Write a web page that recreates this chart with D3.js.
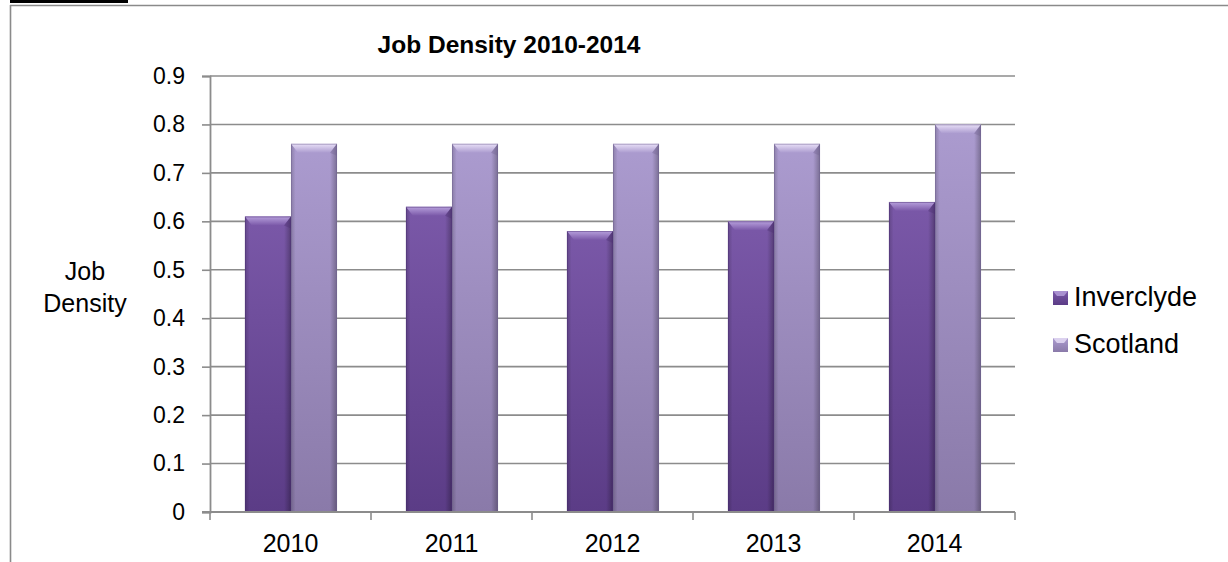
<!DOCTYPE html>
<html>
<head>
<meta charset="utf-8">
<script src="https://cdn.jsdelivr.net/npm/d3@7"></script>
<style>
  html, body { margin: 0; padding: 0; background: #fff; }
  svg { display: block; }
  text { font-family: "Liberation Sans", Arial, sans-serif; fill: #000; }
</style>
</head>
<body>
<svg id="chart" width="1228" height="562"></svg>
<script>
// Job density by year
const years = ["2010", "2011", "2012", "2013", "2014"];
const seriesNames = ["Inverclyde", "Scotland"];
const inverclyde = [0.61, 0.63, 0.58, 0.60, 0.64];
const scotland = [0.76, 0.76, 0.76, 0.76, 0.80];
const yTicks = [0, 0.1, 0.2, 0.3, 0.4, 0.5, 0.6, 0.7, 0.8, 0.9];
const seriesValues = { Inverclyde: inverclyde, Scotland: scotland };

const svg = d3.select("#chart");
const W = 1228, H = 562;
const plot = { left: 210, right: 1015, top: 76, bottom: 512 };

// palette per series: top, bottom, bevel highlight
const palette = {
  Inverclyde: { top: "#7a58a8", bottom: "#5b3c86", hi: "#b7a0dc", edge: "#4a2f70" },
  Scotland:   { top: "#ab9bcf", bottom: "#8a7aa9", hi: "#e9e0f8", edge: "#6f6290" }
};

const defs = svg.append("defs");
seriesNames.forEach(s => {
  const p = palette[s];
  const v = defs.append("linearGradient").attr("id", "v-" + s)
    .attr("x1", 0).attr("y1", 0).attr("x2", 0).attr("y2", 1);
  v.append("stop").attr("offset", "0%").attr("stop-color", p.top);
  v.append("stop").attr("offset", "100%").attr("stop-color", p.bottom);
  const b = defs.append("linearGradient").attr("id", "b-" + s)
    .attr("x1", 0).attr("y1", 0).attr("x2", 0).attr("y2", 1);
  b.append("stop").attr("offset", "0%").attr("stop-color", p.hi);
  b.append("stop").attr("offset", "100%").attr("stop-color", p.top);
});
const hg = defs.append("linearGradient").attr("id", "edges")
  .attr("x1", 0).attr("y1", 0).attr("x2", 1).attr("y2", 0);
hg.append("stop").attr("offset", "0%").attr("stop-color", "#000").attr("stop-opacity", 0.18);
hg.append("stop").attr("offset", "10%").attr("stop-color", "#000").attr("stop-opacity", 0.0);
hg.append("stop").attr("offset", "85%").attr("stop-color", "#000").attr("stop-opacity", 0.0);
hg.append("stop").attr("offset", "100%").attr("stop-color", "#000").attr("stop-opacity", 0.28);

// page frame and heading rule
svg.append("rect").attr("x", 10).attr("y", 0).attr("width", 118).attr("height", 3).attr("fill", "#000");
svg.append("line").attr("x1", 10.5).attr("x2", 10.5).attr("y1", 5).attr("y2", H)
  .attr("stroke", "#8a8a8a").attr("stroke-width", 1.6);
svg.append("line").attr("x1", 10).attr("x2", W).attr("y1", 5.5).attr("y2", 5.5)
  .attr("stroke", "#8a8a8a").attr("stroke-width", 1.6);

const y = d3.scaleLinear().domain([0, 0.9]).range([plot.bottom, plot.top]);
const x0 = d3.scaleBand().domain(years).range([plot.left, plot.right]).padding(0);
const bw = x0.bandwidth();
const x1 = d3.scaleBand().domain(seriesNames).range([bw * 0.217, bw * 0.789]).padding(0);

// gridlines
svg.append("g").selectAll("line").data(yTicks.filter(t => t > 0)).join("line")
  .attr("x1", plot.left).attr("x2", plot.right)
  .attr("y1", d => y(d)).attr("y2", d => y(d))
  .attr("stroke", "#8c8c8c").attr("stroke-width", 1.6);

// y axis
const yAxis = d3.axisLeft(y).tickValues(yTicks).tickSize(8).tickPadding(17)
  .tickFormat(d => d === 0 ? "0" : d3.format(".1f")(d));
const gy = svg.append("g").attr("transform", `translate(${plot.left},0)`).call(yAxis);
gy.select(".domain").attr("stroke", "#8c8c8c").attr("stroke-width", 1.8);
gy.selectAll(".tick line").attr("stroke", "#8c8c8c").attr("stroke-width", 1.6);
gy.selectAll(".tick text").style("font-size", "23px").style("font-family", "'Liberation Sans', Arial, sans-serif")
  .attr("fill", "#000");

// bars
const groups = svg.append("g").selectAll("g").data(years).join("g")
  .attr("transform", d => `translate(${x0(d)},0)`);
groups.each(function (yr, i) {
  const g = d3.select(this);
  seriesNames.forEach(s => {
    const v = seriesValues[s][i];
    const bx = x1(s), by = y(v), w = x1.bandwidth(), h = y(0) - y(v);
    const p = palette[s];
    g.append("rect").attr("x", bx).attr("y", by).attr("width", w).attr("height", h)
      .attr("fill", `url(#v-${s})`);
    g.append("rect").attr("x", bx).attr("y", by).attr("width", w).attr("height", h)
      .attr("fill", "url(#edges)");
    const bev = 9, ins = 7;
    g.append("polygon")
      .attr("points", [[bx, by], [bx + w, by], [bx + w - ins, by + bev], [bx + ins, by + bev]].join(" "))
      .attr("fill", `url(#b-${s})`);
    g.append("polygon")
      .attr("points", [[bx + w, by], [bx + w, by + bev + 3], [bx + w - ins, by + bev]].join(" "))
      .attr("fill", p.edge).attr("opacity", 0.35);
    g.append("rect").attr("x", bx + 0.5).attr("y", by + 0.5).attr("width", w - 1).attr("height", h - 1)
      .attr("fill", "none").attr("stroke", p.edge).attr("stroke-opacity", 0.45).attr("stroke-width", 1);
  });
});

// x axis
const xAxis = d3.axisBottom(x0).tickSize(0).tickPadding(22);
const gx = svg.append("g").attr("transform", `translate(0,${plot.bottom})`).call(xAxis);
gx.select(".domain").remove();
gx.selectAll(".tick text").style("font-size", "25px").style("font-family", "'Liberation Sans', Arial, sans-serif")
  .attr("fill", "#000");
svg.append("line").attr("x1", plot.left - 8).attr("x2", plot.right).attr("y1", plot.bottom).attr("y2", plot.bottom)
  .attr("stroke", "#8c8c8c").attr("stroke-width", 1.8);
svg.append("g").selectAll("line").data(years.map(d => x0(d)).concat([plot.right])).join("line")
  .attr("x1", d => d).attr("x2", d => d).attr("y1", plot.bottom).attr("y2", plot.bottom + 8)
  .attr("stroke", "#8c8c8c").attr("stroke-width", 1.6);

// title
svg.append("text").attr("x", 509).attr("y", 53).attr("text-anchor", "middle")
  .style("font-size", "24.5px").style("font-weight", "bold").text("Job Density 2010-2014");

// y axis title
const yt = svg.append("text").attr("text-anchor", "middle").style("font-size", "25px");
yt.append("tspan").attr("x", 85).attr("y", 280).text("Job");
yt.append("tspan").attr("x", 85).attr("y", 312).text("Density");

// legend
const legend = svg.append("g").selectAll("g").data(seriesNames).join("g")
  .attr("transform", (d, i) => `translate(1053,${291 + i * 47})`);
legend.append("rect").attr("width", 15).attr("height", 14).attr("fill", d => `url(#v-${d})`);
legend.append("polygon").attr("points", "0,0 15,0 11,5 4,5").attr("fill", d => palette[d].hi).attr("opacity", 0.8);
legend.append("text").attr("x", 21).attr("y", 15).style("font-size", "27px").text(d => d);
</script>
</body>
</html>
